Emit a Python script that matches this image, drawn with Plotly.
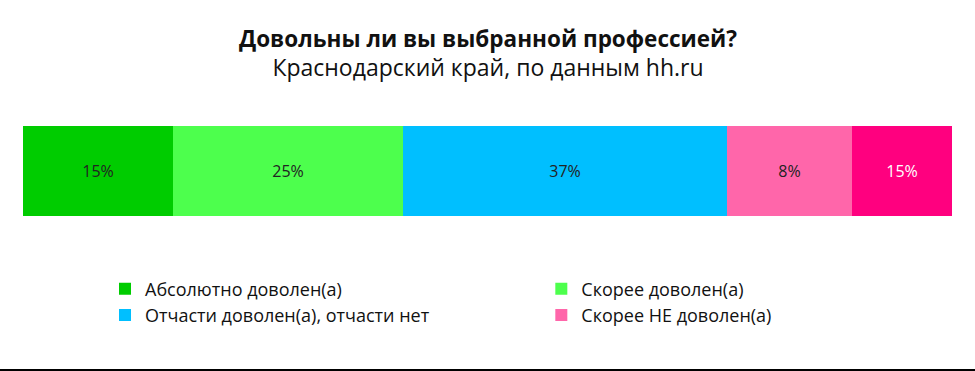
import plotly.graph_objects as go

categories = ["Абсолютно доволен(а)", "Скорее доволен(а)", "Отчасти доволен(а), отчасти нет",
              "Скорее НЕ доволен(а)", "Абсолютно НЕ доволен(а)"]
bar_widths = [16.2, 24.7, 35.0, 13.4, 10.8]
labels = ["15%", "25%", "37%", "8%", "15%"]
colors = ["#00CC00", "#4DFF4D", "#00BFFF", "#FF66AA", "#FF007F"]
text_colors = ["#222222", "#222222", "#222222", "#222222", "#FFFFFF"]
legend_ids = ["legend", "legend2", "legend", "legend2", "legend"]
show_legend = [True, True, True, True, False]
title = "Довольны ли вы выбранной профессией?"
subtitle = "Краснодарский край, по данным hh.ru"

FONT = "Open Sans"

fig = go.Figure()
for i in range(len(categories)):
    fig.add_trace(go.Bar(
        y=[""], x=[bar_widths[i]], orientation="h", name=categories[i],
        marker=dict(color=colors[i], line=dict(width=0)),
        text=[labels[i]], textposition="inside", insidetextanchor="middle",
        textangle=0, constraintext="none",
        textfont=dict(color=text_colors[i], size=16, family=FONT),
        showlegend=show_legend[i], legend=legend_ids[i], width=1,
        hoverinfo="skip",
    ))

legend_common = dict(
    orientation="v", traceorder="normal", bgcolor="rgba(0,0,0,0)",
    font=dict(size=18, color="#111111", family=FONT),
    xref="container", yref="container", yanchor="top", xanchor="left",
    itemwidth=30, tracegroupgap=0,
)

fig.update_layout(
    width=975, height=371,
    margin=dict(l=23, r=23, t=126, b=155, autoexpand=False),
    barmode="stack", bargap=0,
    paper_bgcolor="white", plot_bgcolor="white",
    xaxis=dict(visible=False, range=[0, sum(bar_widths)], fixedrange=True),
    yaxis=dict(visible=False, range=[-0.5, 0.5], fixedrange=True),
    legend=dict(**legend_common, x=0.1077, y=0.271),
    legend2=dict(**legend_common, x=0.5552, y=0.271),
    annotations=[
        dict(text=f"<b>{title}</b><br><span style='font-size:23px'>{subtitle}</span>",
             xref="paper", yref="paper", x=0.5, y=1.816, yanchor="middle", showarrow=False,
             font=dict(size=22.5, color="#111111", family=FONT)),
    ],
    shapes=[dict(type="line", xref="paper", yref="paper", x0=-0.03, x1=1.03,
                 y0=-1.71, y1=-1.71, line=dict(color="black", width=2))],
)

fig.write_html("out.html", config={"displayModeBar": False},
               post_script="document.body.style.margin='0';document.body.style.padding='0';document.body.style.overflow='hidden';")
